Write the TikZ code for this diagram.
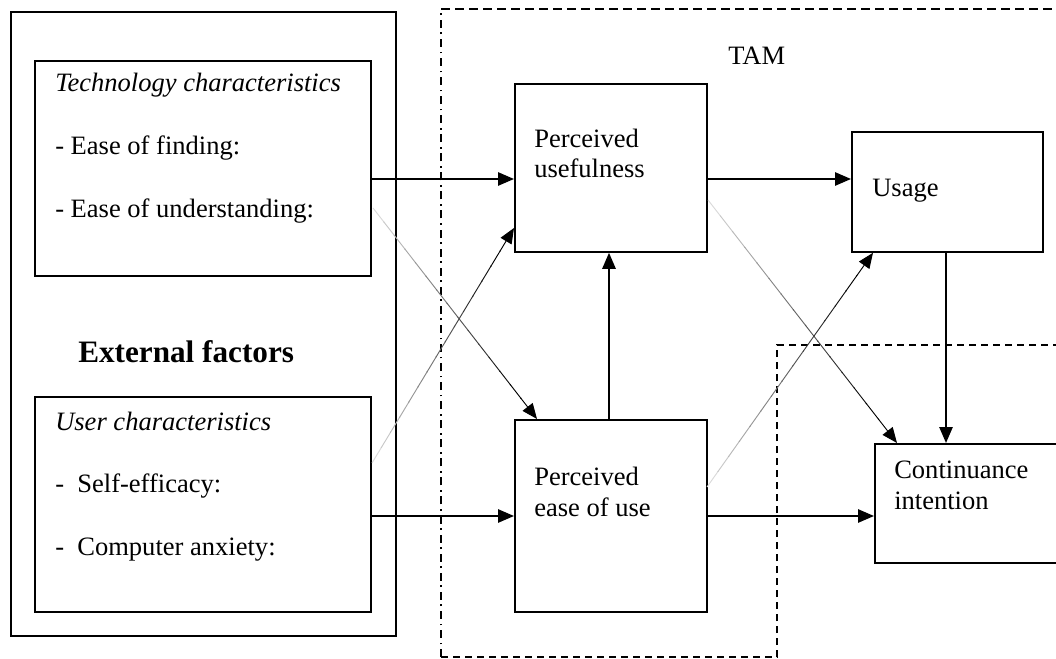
\documentclass[tikz,border=0pt]{standalone}
\usepackage{fontspec}
\setmainfont{Liberation Serif}
\usetikzlibrary{arrows.meta,calc}
\newcommand\fadearrow[2]{%
  \foreach \i in {0,...,13}{%
    \pgfmathsetmacro\ta{0.9*\i/14}%
    \pgfmathsetmacro\tb{0.9*(\i+1)/14+0.004}%
    \pgfmathsetmacro\cc{15+85*\i/13}%
    \draw[faint,draw=black!\cc] ($(#1)!\ta!(#2)$) -- ($(#1)!\tb!(#2)$);}%
  \draw[faint,-{Triangle[length=11.5pt,width=9.5pt]}] ($(#1)!0.9!(#2)$) -- (#2);}
\begin{document}
\begin{tikzpicture}[x=0.75pt,y=-0.75pt,
  box/.style={draw,line width=1.35pt,inner sep=0pt,anchor=north west},
  lbl/.style={anchor=base west,inner sep=0pt,font=\fontsize{19.9}{23}\selectfont},
  arr/.style={line width=1.3pt,-{Triangle[length=12pt,width=10pt]}},
  faint/.style={line width=0.7pt},
  dashdot/.style={line width=1.3pt,dash pattern=on 6pt off 3.5pt on 1.3pt off 3.5pt},
  tamdash/.style={line width=1.3pt,dash pattern=on 6.5pt off 4pt},
  contdash/.style={line width=1.1pt,dash pattern=on 5pt off 4pt}]
\useasboundingbox (0,0) rectangle (1056,659);
\clip (0,0) rectangle (1056,659);

% external factors
\node[box,minimum width=288.75pt,minimum height=468pt] (outer) at (10,11) {};
\node[box,minimum width=252pt,minimum height=161.25pt] (tech) at (34,60) {};
\node[box,minimum width=252pt,minimum height=161.25pt] (user) at (34,396) {};
\node[lbl] (t1) at (55,92) {\itshape Technology characteristics};
\node[lbl] (t2) at (55,155) {- Ease of finding:};
\node[lbl] (t3) at (55,218) {- Ease of understanding:};
\node[lbl,font=\fontsize{23.4}{27}\selectfont\bfseries] (ext) at (78,362) {External factors};
\node[lbl] (u1) at (55,430) {\itshape User characteristics};
\node[lbl] (u2) at (55,492) {-\ \ Self-efficacy:};
\node[lbl] (u3) at (55,555) {-\ \ Computer anxiety:};

% TAM region
\draw[dashdot] (441,657) -- (441,9);
\draw[tamdash] (441,9) -- (1060,9);
\draw[contdash] (441,657) -- (777,657) -- (777,345) -- (1060,345);
\node[lbl] (tam) at (728,65) {TAM};

% TAM boxes
\node[box,minimum width=144pt,minimum height=126pt] (pu) at (514,83) {};
\node[box,minimum width=144pt,minimum height=144pt] (peou) at (514,419) {};
\node[box,minimum width=143.25pt,minimum height=90pt] (usage) at (851,131) {};
\node[box,minimum width=150pt,minimum height=89.25pt] (cont) at (874,443) {};
\node[lbl] (pu1) at (534,148) {Perceived};
\node[lbl] (pu2) at (534,178) {usefulness};
\node[lbl] (pe1) at (534,485) {Perceived};
\node[lbl] (pe2) at (534,516) {ease of use};
\node[lbl] (us1) at (872,197) {Usage};
\node[lbl] (ci1) at (894,478) {Continuance};
\node[lbl] (ci2) at (894,509) {intention};

% solid arrows
\draw[arr] (tech.east |- 0,179) -- (pu.west |- 0,179);
\draw[arr] (user.east |- 0,516) -- (peou.west |- 0,516);
\draw[arr] (pu.east |- 0,179) -- (usage.west |- 0,179);
\draw[arr] (peou.east |- 0,516) -- (cont.west |- 0,516);
\draw[arr] (peou.north -| 609,0) -- (pu.south -| 609,0);
\draw[arr] (usage.south -| 946,0) -- (cont.north -| 946,0);

% faint arrows
\coordinate (f1s) at (373,208); \coordinate (f1e) at (peou.north west -| 537,0);
\coordinate (f2s) at (372,463); \coordinate (f2e) at (pu.west |- 0,228);
\coordinate (f3s) at (708,200); \coordinate (f3e) at (cont.north west -| 897,0);
\coordinate (f4s) at (707,487); \coordinate (f4e) at (usage.south west -| 873,0);
\fadearrow{f1s}{f1e}
\fadearrow{f2s}{f2e}
\fadearrow{f3s}{f3e}
\fadearrow{f4s}{f4e}
\end{tikzpicture}
\end{document}
